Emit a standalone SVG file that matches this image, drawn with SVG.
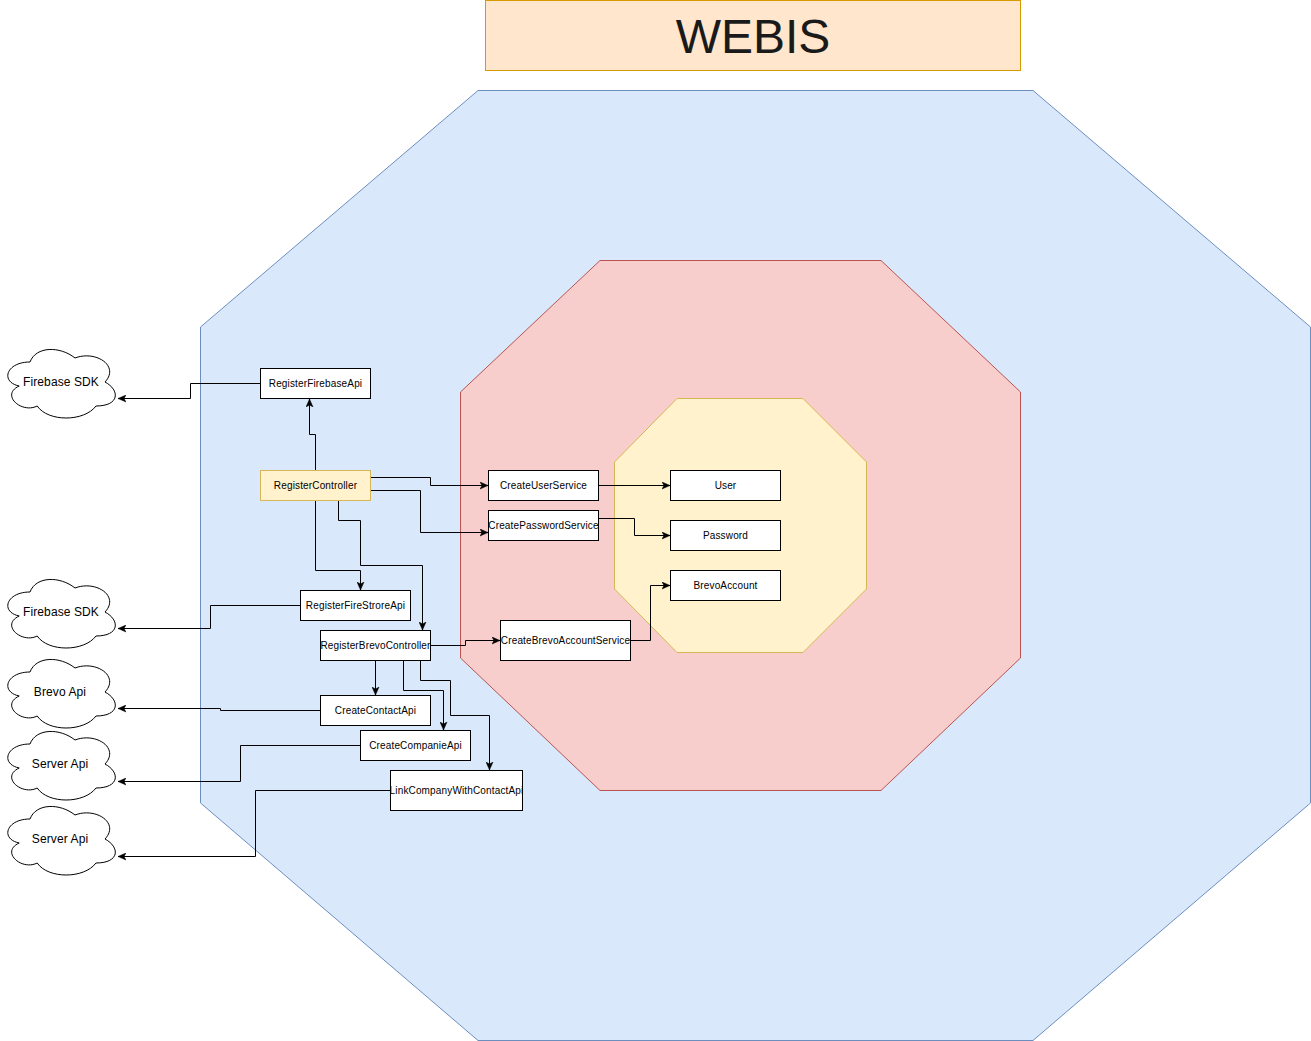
<svg xmlns="http://www.w3.org/2000/svg" xmlns:xlink="http://www.w3.org/1999/xlink" width="1311" height="1041" viewBox="0 0 1311 1041">
<style>
.box{fill:#ffffff;stroke:#000000;stroke-width:1}
.ctrl{fill:#fff2cc;stroke:#d6b656;stroke-width:1}
.cloud{fill:#ffffff;stroke:#000000;stroke-width:1}
.t{font-family:"Liberation Sans",Arial,Helvetica,sans-serif;font-size:10px;letter-spacing:0.15px;fill:#000000;text-anchor:middle}
.ct{font-family:"Liberation Sans",Arial,Helvetica,sans-serif;font-size:12px;letter-spacing:0.1px;fill:#000000;text-anchor:middle}
.edge{fill:none;stroke:#000000;stroke-width:1;marker-end:url(#arrow)}
</style>
<defs>
<marker id="arrow" markerUnits="userSpaceOnUse" markerWidth="9" markerHeight="8" refX="8" refY="4" orient="auto">
<path d="M0,0.5 L8,4 L0,7.5 L2,4 Z" fill="#000000" stroke="#000000" stroke-width="0.5"/>
</marker>
<path id="cloudShape" d="M30,20 C6,20 0,40 19.2,44 C0,52.8 21.6,72 37.2,64 C48,80 84,80 96,64 C120,64 120,48 105,40 C120,24 96,8 75,16 C60,4 36,4 30,20 Z"/>
</defs>
<rect x="0" y="0" width="1311" height="1041" fill="#ffffff"/>

<g id="layers">
<polygon points="478,90.5 1033,90.5 1310.5,327 1310.5,803 1033,1040.5 478,1040.5 200.5,803 200.5,327" fill="#dae8fc" stroke="#6c8ebf" stroke-width="1"/>
<polygon points="600,260.5 881,260.5 1020.5,392 1020.5,658 881,790.5 600,790.5 460.5,658 460.5,392" fill="#f8cecc" stroke="#b85450" stroke-width="1"/>
<polygon points="677,398.5 803,398.5 866.5,462 866.5,589 803,652.5 677,652.5 614.5,589 614.5,462" fill="#fff2cc" stroke="#d6b656" stroke-width="1"/>
</g>

<g id="title">
<rect x="485.5" y="0.5" width="535" height="70" fill="#ffe6cc" stroke="#d79b00" stroke-width="1"/>
<text x="753" y="53" font-family="Liberation Sans, Arial, Helvetica, sans-serif" font-size="48" fill="#1a1a1a" text-anchor="middle">WEBIS</text>
</g>

<g id="connectors">
<path class="edge" d="M260,383.5 H190.5 V398.5 H118"/>
<path class="edge" d="M315.5,470 V434.5 H309.5 V399"/>
<path class="edge" d="M370,477.5 H430.5 V485.5 H488"/>
<path class="edge" d="M370,490.5 H420.5 V532.5 H488"/>
<path class="edge" d="M338.5,500 V520.5 H360.5 V565.5 H422.5 V630"/>
<path class="edge" d="M315.5,500 V570.5 H360.5 V590"/>
<path class="edge" d="M300,605.5 H210.5 V628.5 H118"/>
<path class="edge" d="M430,645.5 H465.5 V640.5 H500"/>
<path class="edge" d="M375.5,660 V695"/>
<path class="edge" d="M403.5,660 V690.5 H443.5 V730"/>
<path class="edge" d="M420.5,660 V680.5 H450.5 V715.5 H489.5 V770"/>
<path class="edge" d="M320,710.5 H220.5 V708.5 H118"/>
<path class="edge" d="M360,745.5 H240.5 V781.5 H118"/>
<path class="edge" d="M390,790.5 H255.5 V856.5 H118"/>
<path class="edge" d="M598,485.5 H670"/>
<path class="edge" d="M598,518.5 H634.5 V535.5 H670"/>
<path class="edge" d="M630,640.5 H650.5 V585.5 H670"/>
</g>

<g id="cloud-firebase-sdk-1">
<use xlink:href="#cloudShape" href="#cloudShape" x="0" y="342" class="cloud"/>
<text class="ct" x="61" y="386">Firebase SDK</text>
</g>
<g id="cloud-firebase-sdk-2">
<use xlink:href="#cloudShape" href="#cloudShape" x="0" y="572" class="cloud"/>
<text class="ct" x="61" y="616">Firebase SDK</text>
</g>
<g id="cloud-brevo-api">
<use xlink:href="#cloudShape" href="#cloudShape" x="0" y="652" class="cloud"/>
<text class="ct" x="60" y="696">Brevo Api</text>
</g>
<g id="cloud-server-api-1">
<use xlink:href="#cloudShape" href="#cloudShape" x="0" y="724" class="cloud"/>
<text class="ct" x="60" y="768">Server Api</text>
</g>
<g id="cloud-server-api-2">
<use xlink:href="#cloudShape" href="#cloudShape" x="0" y="799" class="cloud"/>
<text class="ct" x="60" y="843">Server Api</text>
</g>

<g id="RegisterFirebaseApi">
<rect class="box" x="260.5" y="368.5" width="110" height="30"/>
<text class="t" x="315.5" y="387">RegisterFirebaseApi</text>
</g>
<g id="RegisterController">
<rect class="ctrl" x="260.5" y="470.5" width="110" height="30"/>
<text class="t" x="315.5" y="489">RegisterController</text>
</g>
<g id="CreateUserService">
<rect class="box" x="488.5" y="470.5" width="110" height="30"/>
<text class="t" x="543.5" y="489">CreateUserService</text>
</g>
<g id="CreatePasswordService">
<rect class="box" x="488.5" y="510.5" width="110" height="30"/>
<text class="t" x="543.5" y="529">CreatePasswordService</text>
</g>
<g id="User">
<rect class="box" x="670.5" y="470.5" width="110" height="30"/>
<text class="t" x="725.5" y="489">User</text>
</g>
<g id="Password">
<rect class="box" x="670.5" y="520.5" width="110" height="30"/>
<text class="t" x="725.5" y="539">Password</text>
</g>
<g id="BrevoAccount">
<rect class="box" x="670.5" y="570.5" width="110" height="30"/>
<text class="t" x="725.5" y="589">BrevoAccount</text>
</g>
<g id="RegisterFireStroreApi">
<rect class="box" x="300.5" y="590.5" width="110" height="30"/>
<text class="t" x="355.5" y="609">RegisterFireStroreApi</text>
</g>
<g id="RegisterBrevoController">
<rect class="box" x="320.5" y="630.5" width="110" height="30"/>
<text class="t" x="375.5" y="649">RegisterBrevoController</text>
</g>
<g id="CreateBrevoAccountService">
<rect class="box" x="500.5" y="620.5" width="130" height="40"/>
<text class="t" x="565.5" y="644">CreateBrevoAccountService</text>
</g>
<g id="CreateContactApi">
<rect class="box" x="320.5" y="695.5" width="110" height="30"/>
<text class="t" x="375.5" y="714">CreateContactApi</text>
</g>
<g id="CreateCompanieApi">
<rect class="box" x="360.5" y="730.5" width="110" height="30"/>
<text class="t" x="415.5" y="749">CreateCompanieApi</text>
</g>
<g id="LinkCompanyWithContactApi">
<rect class="box" x="390.5" y="770.5" width="132" height="40"/>
<text class="t" x="456.5" y="794">LinkCompanyWithContactApi</text>
</g>
</svg>
